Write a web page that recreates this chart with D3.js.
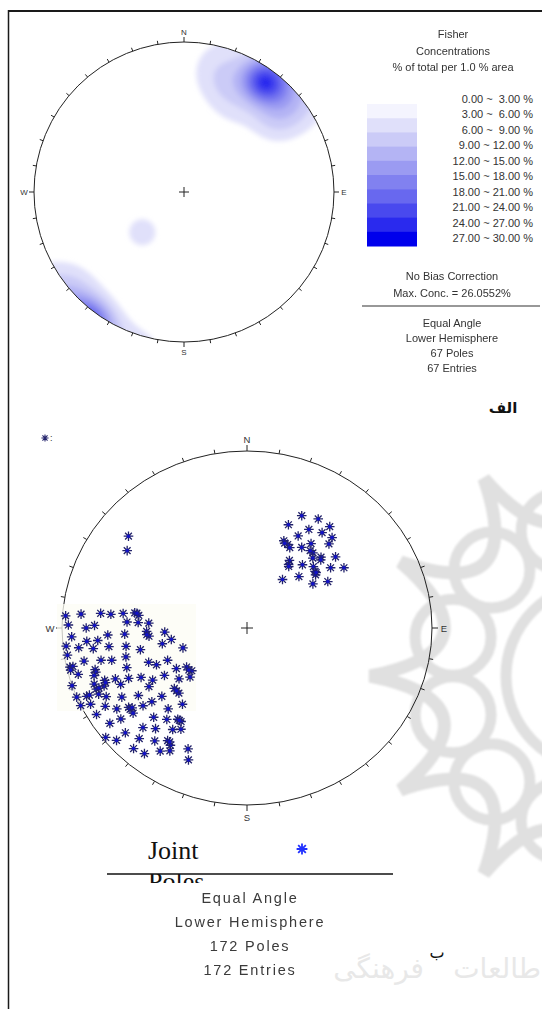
<!DOCTYPE html>
<html>
<head>
<meta charset="utf-8">
<script src="https://cdn.jsdelivr.net/npm/d3@7"></script>
<style>
  html, body { margin: 0; padding: 0; background: #fff; }
  svg { display: block; }
</style>
</head>
<body>
<svg id="fig" width="542" height="1009"></svg>
<script>
// ---------- data ----------
// Fisher contour levels (% of total per 1 % area) and their legend labels
const contourLevels = [0, 3, 6, 9, 12, 15, 18, 21, 24, 27, 30];
const levelLabels = [
  "0.00 ~  3.00 %", "3.00 ~  6.00 %", "6.00 ~  9.00 %", "9.00 ~ 12.00 %",
  "12.00 ~ 15.00 %", "15.00 ~ 18.00 %", "18.00 ~ 21.00 %", "21.00 ~ 24.00 %",
  "24.00 ~ 27.00 %", "27.00 ~ 30.00 %"
];
// Concentration centres of the 67-pole set (trend, plunge, peak %, kappa)
const centreTrend  = [36, 48, 18, 30, 52, 226];
const centrePlunge = [5, 3, 10, 20, 15, 48];
const centrePeak   = [19, 8, 5, 4, 4, 5];
const centreKappa  = [80, 38, 30, 25, 40, 45];

const fisherTitle = ["Fisher", "Concentrations", "% of total per 1.0 % area"];
const fisherNotes = ["No Bias Correction", "Max. Conc. = 26.0552%"];
const netInfoA = ["Equal Angle", "Lower Hemisphere", "67 Poles", "67 Entries"];
const netInfoB = ["Equal Angle", "Lower Hemisphere", "172 Poles", "172 Entries"];
const compass = ["N", "E", "S", "W"];

// Joint poles (trend, plunge in degrees)
const poleTrend = [
  // NE set
  25, 32, 21, 38, 31, 28, 37, 42, 22, 25, 33, 36, 43, 40, 42, 45, 50, 31, 32, 40,
  46, 53, 57, 49, 51, 44, 35, 55, 59, 23, 27, 38, 33, 50, 46,
  // NW pair
  309, 304,
  // W-SW set
  274, 275, 276, 276, 277, 278, 277, 278, 273, 273, 273, 271, 270, 271,
  267, 267, 268, 265, 266, 267, 267, 265, 265, 259, 261,
  264, 263, 262, 262, 261, 258, 252,
  261, 258, 257, 256, 256, 250, 247, 247,
  257, 257, 256, 254, 253, 251, 239, 236, 231, 233,
  254, 252, 249, 248, 246, 244, 240, 239, 232, 228,
  251, 249, 247, 247, 247, 248, 245, 238, 229, 225, 227,
  247, 246, 246, 245, 243, 240, 237, 230,
  244, 243, 240, 237, 235, 234, 234, 232, 231, 223, 219,
  239, 234, 233, 232, 225, 220, 216, 214, 215,
  228, 225, 221, 215, 212,
  231, 228, 223, 218, 214, 212, 213,
  222, 218, 214, 211, 205, 203
];
const polePlunge = [
  20, 18, 26, 18, 24, 29, 22, 21, 34, 35, 33, 29, 24, 32, 34, 31, 26, 42, 44, 40,
  37, 31, 26, 38, 39, 46, 53, 43, 36, 35, 36, 32, 45, 38, 32,
  11, 14,
  1, 6, 13, 17, 22, 27, 29, 28, 24, 29, 34, 2, 8, 11,
  16, 23, 33, 34, 33, 42, 3, 8, 12, 40, 45,
  1, 5, 10, 16, 23, 29, 50,
  1, 6, 12, 16, 22, 31, 34, 40,
  1, 2, 1, 9, 9, 21, 42, 47, 48, 47,
  3, 8, 11, 15, 20, 25, 29, 35, 40, 45,
  0, 7, 7, 8, 10, 11, 16, 26, 35, 35, 35,
  0, 3, 4, 7, 9, 14, 20, 28,
  0, 3, 7, 10, 14, 14, 15, 19, 23, 26, 32,
  3, 5, 9, 14, 19, 22, 25, 25, 25,
  7, 13, 16, 20, 22,
  1, 3, 9, 12, 15, 14, 15,
  5, 6, 10, 12, 16, 12
];

// ---------- helpers ----------
const rad = Math.PI / 180;
// equal-angle (stereographic) lower-hemisphere projection on a unit net
function project(trend, plunge) {
  const r = Math.tan((90 - plunge) / 2 * rad);
  return [r * Math.sin(trend * rad), r * Math.cos(trend * rad)];
}
function toVector(trend, plunge) {
  const t = trend * rad, p = plunge * rad;
  return [Math.cos(p) * Math.sin(t), Math.cos(p) * Math.cos(t), Math.sin(p)];
}
function asteriskPath(h) {
  const p = d3.path(), d = h * Math.SQRT1_2;
  p.moveTo(-h, 0); p.lineTo(h, 0);
  p.moveTo(0, -h); p.lineTo(0, h);
  p.moveTo(-d, -d); p.lineTo(d, d);
  p.moveTo(-d, d); p.lineTo(d, -d);
  return p.toString();
}

const svg = d3.select("#fig");
const sans = "'Liberation Sans', Arial, sans-serif";
const defs = svg.append("defs");
svg.append("rect").attr("width", 542).attr("height", 1009).attr("fill", "#fff");

defs.append("filter").attr("id", "haze")
  .append("feGaussianBlur").attr("stdDeviation", 1.2);

// ---------- watermark rosette ----------
const wm = svg.append("g").attr("fill", "none").attr("stroke", "#e0e0e0")
  .attr("filter", "url(#haze)");
{
  const c = [598, 676], tipR = 228, bowR = 100;
  const pt = (r, a) => [c[0] + r * Math.cos(a * rad), c[1] + r * Math.sin(a * rad)];
  const p = d3.path();
  const angles = d3.range(0, 360, 30);
  p.moveTo(...pt(tipR, angles[0]));
  angles.forEach(a => {
    const ctrl = pt(bowR, a + 15), tip = pt(tipR, a + 30);
    p.quadraticCurveTo(ctrl[0], ctrl[1], tip[0], tip[1]);
  });
  wm.append("path").attr("d", p.toString()).attr("stroke-width", 13);
  angles.forEach(a => {
    const q = pt(150, a + 15);
    wm.append("circle").attr("cx", q[0]).attr("cy", q[1]).attr("r", 38).attr("stroke-width", 11);
  });
  wm.append("circle").attr("cx", c[0]).attr("cy", c[1]).attr("r", 92).attr("stroke-width", 11);
}
// watermark words, split around the panel letter
const wmText = svg.append("g").attr("font-family", "'DejaVu Sans', sans-serif")
  .attr("font-size", 28).attr("fill", "#e8e8e8").attr("text-anchor", "end");
wmText.append("text").attr("x", 541).attr("y", 978).text("طالعات");
wmText.append("text").attr("x", 424).attr("y", 978).text("فرهنگی");

// ---------- frame ----------
svg.append("line").attr("x1", 8).attr("x2", 542).attr("y1", 11).attr("y2", 11)
  .attr("stroke", "#1a1a1a").attr("stroke-width", 2);
svg.append("line").attr("x1", 8.5).attr("x2", 8.5).attr("y1", 10).attr("y2", 1009)
  .attr("stroke", "#1a1a1a").attr("stroke-width", 1.5);

// ---------- net drawing ----------
function drawNet(g, xs, ys, tickLen, cardLen, labelGap, fontSize) {
  const cx = xs(0), cy = ys(0), rx = xs(1) - xs(0), ry = ys(0) - ys(1);
  g.append("ellipse").attr("cx", cx).attr("cy", cy).attr("rx", rx).attr("ry", ry)
    .attr("fill", "none").attr("stroke", "#222").attr("stroke-width", 1);
  const ticks = d3.range(0, 360, 10);
  g.selectAll("line.tick").data(ticks).join("line").attr("class", "tick")
    .attr("x1", a => xs(Math.sin(a * rad)))
    .attr("y1", a => ys(Math.cos(a * rad)))
    .attr("x2", a => xs(Math.sin(a * rad) * (1 + (a % 90 ? tickLen : cardLen) / rx)))
    .attr("y2", a => ys(Math.cos(a * rad) * (1 + (a % 90 ? tickLen : cardLen) / ry)))
    .attr("stroke", "#222").attr("stroke-width", 1);
  g.selectAll("text.card").data(compass).join("text").attr("class", "card")
    .attr("x", (d, i) => xs(Math.sin(i * 90 * rad) * (1 + labelGap / rx)))
    .attr("y", (d, i) => ys(Math.cos(i * 90 * rad) * (1 + labelGap / ry)))
    .attr("text-anchor", "middle").attr("dominant-baseline", "central")
    .attr("font-family", sans).attr("font-size", fontSize).attr("fill", "#333")
    .text(d => d);
  return { cx, cy };
}
function drawCross(g, cx, cy, h) {
  g.append("path").attr("d", `M${cx - h},${cy}H${cx + h}M${cx},${cy - h}V${cy + h}`)
    .attr("stroke", "#222").attr("stroke-width", 1);
}

// ---------- top: Fisher concentration net ----------
const xA = d3.scaleLinear().domain([-1, 1]).range([34, 334]);
const yA = d3.scaleLinear().domain([-1, 1]).range([342, 42]);
const levelColors = ["#f4f4fe", "#e0e0fa", "#cbcbf7", "#b4b4f4", "#9b9bf2",
                     "#8181f0", "#6767ef", "#4a4aee", "#2a2aee", "#0000ec"];

defs.append("clipPath").attr("id", "netA")
  .append("circle").attr("cx", xA(0)).attr("cy", yA(0)).attr("r", xA(1) - xA(0));
defs.append("filter").attr("id", "soft").attr("x", "-10%").attr("y", "-10%")
  .attr("width", "120%").attr("height", "120%")
  .append("feGaussianBlur").attr("stdDeviation", 2.6);
defs.append("filter").attr("id", "softText")
  .append("feGaussianBlur").attr("stdDeviation", 0.35);

const centres = centreTrend.map((t, i) => ({
  v: toVector(t, centrePlunge[i]), a: centrePeak[i], k: centreKappa[i]
}));
function density(x, y) {
  let r = Math.hypot(x, y);
  if (r > 1) { x /= r; y /= r; r = 1; }
  const plunge = 90 - 2 * Math.atan(r) / rad;
  const trend = Math.atan2(x, y) / rad;
  const v = toVector(trend, plunge);
  let s = 0;
  for (const c of centres) {
    const d = Math.abs(v[0] * c.v[0] + v[1] * c.v[1] + v[2] * c.v[2]);
    s += c.a * Math.exp(c.k * (d - 1));
  }
  return s;
}
const n = 220;
const grid = new Array(n * n);
for (let j = 0; j < n; j++) {
  for (let i = 0; i < n; i++) {
    grid[j * n + i] = density(-1 + (i + 0.5) * 2 / n, 1 - (j + 0.5) * 2 / n);
  }
}
const bands = d3.contours().size([n, n]).thresholds(contourLevels.slice(1, -1))(grid);
const gridPath = d3.geoPath(d3.geoIdentity().scale((xA(1) - xA(-1)) / n).translate([xA(-1), yA(1)]));
const gA = svg.append("g");
gA.append("g").attr("clip-path", "url(#netA)")
  .append("g").attr("filter", "url(#soft)")
  .selectAll("path").data(bands).join("path")
  .attr("d", gridPath)
  .attr("fill", (d, i) => levelColors[i + 1]);
const netA = drawNet(gA, xA, yA, 3.5, 5, 10, 8);
drawCross(gA, netA.cx, netA.cy, 5);

// legend colour bar and labels
const barY = d3.scaleBand().domain(d3.range(levelLabels.length)).range([104, 246]);
const lg = svg.append("g");
lg.append("g").attr("filter", "url(#softText)")
  .selectAll("rect").data(levelLabels).join("rect")
  .attr("x", 367).attr("width", 50)
  .attr("y", (d, i) => barY(i)).attr("height", barY.bandwidth() + 0.5)
  .attr("fill", (d, i) => levelColors[i]);
const labY = d3.scalePoint().domain(d3.range(levelLabels.length)).range([99, 238]);
lg.selectAll("text.lvl").data(levelLabels).join("text").attr("class", "lvl")
  .attr("x", 533).attr("y", (d, i) => labY(i))
  .attr("text-anchor", "end").attr("dominant-baseline", "central")
  .attr("font-family", sans).attr("font-size", 11).attr("fill", "#333")
  .attr("xml:space", "preserve").style("white-space", "pre")
  .text(d => d);

function textBlock(lines, x, y0, step, size, fill, spacing) {
  svg.append("g").attr("filter", "url(#softText)")
    .selectAll("text").data(lines).join("text")
    .attr("x", x).attr("y", (d, i) => y0 + i * step)
    .attr("text-anchor", "middle").attr("dominant-baseline", "central")
    .attr("font-family", sans).attr("font-size", size).attr("fill", fill)
    .attr("letter-spacing", spacing)
    .text(d => d);
}
textBlock(fisherTitle, 453, 34, 16.5, 11, "#333", 0);
textBlock(fisherNotes, 452, 276, 17, 11, "#333", 0);
svg.append("line").attr("x1", 362).attr("x2", 540).attr("y1", 306).attr("y2", 306)
  .attr("stroke", "#333").attr("stroke-width", 1.2);
textBlock(netInfoA, 452, 322.5, 15.2, 11, "#333", 0);

svg.append("text").attr("x", 503).attr("y", 413).attr("text-anchor", "middle")
  .attr("font-family", "'DejaVu Sans', sans-serif").attr("font-weight", "bold")
  .attr("font-size", 15).attr("fill", "#111").text("الف");

// ---------- bottom: pole plot ----------
const xB = d3.scaleLinear().domain([-1, 1]).range([62, 432]);
const yB = d3.scaleLinear().domain([-1, 1]).range([805, 451]);
const gB = svg.append("g");
const netB = drawNet(gB, xB, yB, 4, 6, 12, 9.5);
gB.append("rect").attr("x", 57).attr("y", 604).attr("width", 139).attr("height", 107)
  .attr("fill", "#fcfcf4").attr("opacity", 0.75);
drawCross(gB, netB.cx, netB.cy, 6);

const poles = poleTrend.map((t, i) => project(t, polePlunge[i]));
const star = asteriskPath(4.8);
const pg = gB.selectAll("g.pole").data(poles).join("g").attr("class", "pole")
  .attr("transform", d => `translate(${xB(d[0])},${yB(d[1])})`);
pg.append("path").attr("d", star).attr("stroke", "#22226a").attr("stroke-width", 1.3);
pg.append("circle").attr("r", 1.8).attr("fill", "#1212c8");

// symbol key at the top left
svg.append("path").attr("d", asteriskPath(3.6)).attr("transform", "translate(45,438)")
  .attr("stroke", "#26266e").attr("stroke-width", 1.1);
svg.append("text").attr("x", 50).attr("y", 441).attr("font-family", sans)
  .attr("font-size", 9).attr("fill", "#333").text(":");

// legend entry
svg.append("text").attr("x", 148).attr("y", 859)
  .attr("font-family", "'Liberation Serif', 'Times New Roman', serif")
  .attr("font-size", 26).attr("fill", "#111").text("Joint");
defs.append("clipPath").attr("id", "cutLine")
  .append("rect").attr("x", 140).attr("y", 874).attr("width", 90).attr("height", 9);
svg.append("text").attr("x", 148).attr("y", 890).attr("clip-path", "url(#cutLine)")
  .attr("font-family", "'Liberation Serif', 'Times New Roman', serif")
  .attr("font-size", 26).attr("fill", "#111").text("Poles");
svg.append("path").attr("d", asteriskPath(5.4)).attr("transform", "translate(302,849)")
  .attr("stroke", "#2030ff").attr("stroke-width", 1.8);
svg.append("line").attr("x1", 107).attr("x2", 393).attr("y1", 874).attr("y2", 874)
  .attr("stroke", "#111").attr("stroke-width", 1.5);
textBlock(netInfoB, 250, 898, 24, 14.5, "#3a3a3a", 1.8);

svg.append("text").attr("x", 437).attr("y", 958).attr("text-anchor", "middle")
  .attr("font-family", "'DejaVu Sans', sans-serif")
  .attr("font-size", 16).attr("fill", "#111").text("ب");
</script>
</body>
</html>
